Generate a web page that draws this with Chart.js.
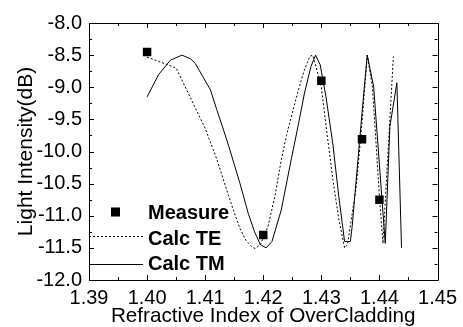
<!DOCTYPE html>
<html>
<head>
<meta charset="utf-8">
<script src="https://cdn.jsdelivr.net/npm/chart.js@4.4.1/dist/chart.umd.min.js"></script>
<style>
html,body{margin:0;padding:0;background:#fff;}
#wrap{width:463px;height:327px;}
</style>
</head>
<body>
<div id="wrap"><canvas id="c" width="463" height="327"></canvas></div>
<script>
// ---- data ----
const measureX = [1.400, 1.420, 1.430, 1.437, 1.440];
const measureY = [-8.45, -11.30, -8.90, -9.81, -10.75];

const teX = [1.400, 1.405, 1.410, 1.411, 1.412, 1.413, 1.414, 1.415, 1.416, 1.417, 1.418, 1.4186, 1.4195, 1.4208, 1.422, 1.4231, 1.424, 1.425, 1.4259, 1.427, 1.428, 1.4285, 1.429, 1.430, 1.4309, 1.432, 1.433, 1.434, 1.4345, 1.436, 1.437, 1.4379, 1.4388, 1.440, 1.4406, 1.4424];
const teY = [-8.53, -8.70, -9.64, -9.88, -10.12, -10.40, -10.68, -10.95, -11.20, -11.38, -11.48, -11.51, -11.45, -11.17, -10.70, -10.13, -9.75, -9.40, -9.09, -8.75, -8.52, -8.50, -8.65, -9.00, -9.67, -10.45, -11.05, -11.50, -11.45, -10.55, -9.55, -8.50, -9.00, -10.70, -11.43, -8.52];

const tmX = [1.400, 1.402, 1.404, 1.406, 1.4075, 1.4083, 1.4095, 1.4109, 1.412, 1.413, 1.414, 1.415, 1.416, 1.4174, 1.4185, 1.4195, 1.4205, 1.4215, 1.4231, 1.4248, 1.426, 1.4271, 1.4282, 1.429, 1.4298, 1.4308, 1.432, 1.433, 1.434, 1.435, 1.4353, 1.437, 1.4379, 1.439, 1.441, 1.4418, 1.443, 1.4438];
const tmY = [-9.15, -8.80, -8.58, -8.50, -8.56, -8.63, -8.82, -9.04, -9.35, -9.62, -9.90, -10.20, -10.50, -10.96, -11.25, -11.45, -11.50, -11.40, -10.91, -10.13, -9.60, -9.09, -8.68, -8.50, -8.65, -9.15, -9.90, -10.70, -11.40, -11.40, -11.17, -9.40, -8.50, -8.99, -11.43, -9.61, -8.93, -11.50];

const xTicks = [1.39, 1.40, 1.41, 1.42, 1.43, 1.44, 1.45];
const yTicks = [-8.0, -8.5, -9.0, -9.5, -10.0, -10.5, -11.0, -11.5, -12.0];
const legendLabels = ['Measure', 'Calc TE', 'Calc TM'];

const toPts = (xs, ys) => xs.map((x, i) => ({x: x, y: ys[i]}));

const FONT = '"Liberation Sans", Arial, sans-serif';

const framePlugin = {
  id: 'frameTicks',
  afterDraw(chart) {
    const ctx = chart.ctx;
    const a = chart.chartArea;
    const xs = chart.scales.x, ys = chart.scales.y;
    ctx.save();
    ctx.strokeStyle = '#000';
    ctx.lineWidth = 1;
    ctx.beginPath();
    ctx.rect(Math.round(a.left) + 0.5, Math.round(a.top) + 0.5, Math.round(a.right - a.left), Math.round(a.bottom - a.top));
    ctx.stroke();
    const major = 5, minor = 3;
    ctx.beginPath();
    const xv = xTicks;
    for (let i = 0; i < xv.length; i++) {
      const px = Math.round(xs.getPixelForValue(xv[i])) + 0.5;
      ctx.moveTo(px, a.bottom); ctx.lineTo(px, a.bottom - major);
      ctx.moveTo(px, a.top); ctx.lineTo(px, a.top + major);
      if (i < xv.length - 1) {
        const pm = Math.round(xs.getPixelForValue((xv[i] + xv[i + 1]) / 2)) + 0.5;
        ctx.moveTo(pm, a.bottom); ctx.lineTo(pm, a.bottom - minor);
        ctx.moveTo(pm, a.top); ctx.lineTo(pm, a.top + minor);
      }
    }
    const yv = yTicks;
    for (let i = 0; i < yv.length; i++) {
      const py = Math.round(ys.getPixelForValue(yv[i])) + 0.5;
      ctx.moveTo(a.left, py); ctx.lineTo(a.left + major, py);
      ctx.moveTo(a.right, py); ctx.lineTo(a.right - major, py);
      if (i < yv.length - 1) {
        const pm = Math.round(ys.getPixelForValue((yv[i] + yv[i + 1]) / 2)) + 0.5;
        ctx.moveTo(a.left, pm); ctx.lineTo(a.left + minor, pm);
        ctx.moveTo(a.right, pm); ctx.lineTo(a.right - minor, pm);
      }
    }
    ctx.stroke();

    // legend inside plot area (lower left)
    ctx.fillStyle = '#000';
    ctx.font = 'bold 20px ' + FONT;
    ctx.textBaseline = 'middle';
    ctx.textAlign = 'left';
    const lx0 = a.left, lx1 = a.left + 54, tx = a.left + 59;
    const rows = [a.top + 189, a.top + 215, a.top + 241];
    // Measure
    ctx.fillRect(a.left + 22, rows[0] - 4.5, 9, 9);
    ctx.fillText(legendLabels[0], tx, rows[0] + 1);
    // Calc TE
    ctx.beginPath();
    ctx.setLineDash([2, 2]);
    ctx.moveTo(lx0, rows[1] - 1.5); ctx.lineTo(lx1, rows[1] - 1.5);
    ctx.stroke();
    ctx.setLineDash([]);
    ctx.fillText(legendLabels[1], tx, rows[1] + 1);
    // Calc TM
    ctx.beginPath();
    ctx.moveTo(lx0, rows[2] + 0.5); ctx.lineTo(lx1, rows[2] + 0.5);
    ctx.stroke();
    ctx.fillText(legendLabels[2], tx, rows[2]);
    ctx.restore();
  }
};

new Chart(document.getElementById('c'), {
  data: {
    datasets: [
      {
        type: 'line', label: 'Calc TE', data: toPts(teX, teY),
        borderColor: '#000', borderWidth: 1, borderDash: [2, 2],
        pointRadius: 0, tension: 0, fill: false
      },
      {
        type: 'line', label: 'Calc TM', data: toPts(tmX, tmY),
        borderColor: '#000', borderWidth: 1,
        pointRadius: 0, tension: 0, fill: false
      },
      {
        type: 'scatter', label: 'Measure', data: toPts(measureX, measureY),
        pointStyle: 'rect', pointRadius: 6, pointBorderWidth: 0,
        backgroundColor: '#000', borderColor: '#000'
      }
    ]
  },
  options: {
    responsive: false,
    animation: false,
    devicePixelRatio: 1,
    layout: { padding: { left: 0, right: 22, top: 23, bottom: 0 } },
    plugins: { legend: { display: false }, tooltip: { enabled: false } },
    scales: {
      x: {
        type: 'linear', min: 1.39, max: 1.45,
        afterFit(s) { s.height = 47; },
        afterBuildTicks(s) { s.ticks = xTicks.map(v => ({value: v})); },
        grid: { display: false, drawTicks: false },
        border: { display: false },
        ticks: {
          padding: 6, color: '#000', maxRotation: 0, autoSkip: false,
          font: { family: FONT, size: 20 },
          callback: v => Number(v).toFixed(2)
        },
        title: {
          display: true, text: 'Refractive Index of OverCladding', color: '#000',
          font: { family: FONT, size: 20.7, lineHeight: 1 }, padding: { top: 0, bottom: 0 }
        }
      },
      y: {
        type: 'linear', min: -12, max: -8,
        afterFit(s) { s.width = 89; },
        afterBuildTicks(s) { s.ticks = yTicks.map(v => ({value: v})); },
        grid: { display: false, drawTicks: false },
        border: { display: false },
        ticks: {
          padding: 7, color: '#000', autoSkip: false,
          font: { family: FONT, size: 20 },
          callback: v => Number(v).toFixed(1)
        },
        title: {
          display: true, text: 'Light Intensity(dB)', color: '#000',
          font: { family: FONT, size: 21, lineHeight: 1 }, padding: { top: 16, bottom: 0 }
        }
      }
    }
  },
  plugins: [framePlugin]
});
</script>
</body>
</html>
